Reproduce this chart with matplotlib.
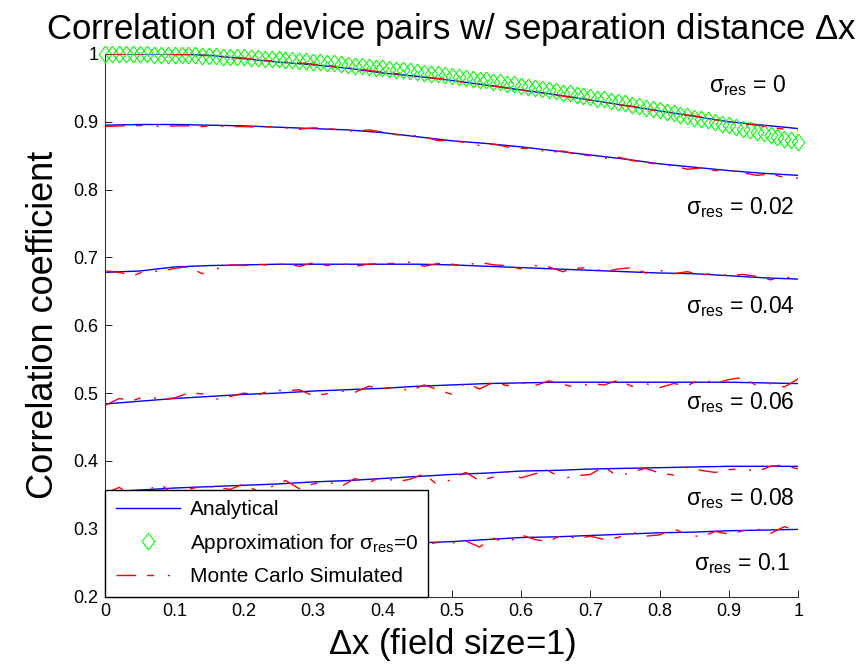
import numpy as np
import matplotlib
matplotlib.use('Agg')
import matplotlib.pyplot as plt

plt.rcParams['font.family'] = ['Liberation Sans', 'DejaVu Sans']
plt.rcParams['mathtext.fontset'] = 'custom'
plt.rcParams['mathtext.rm'] = 'Liberation Sans'
plt.rcParams['mathtext.it'] = 'Liberation Sans'
plt.rcParams['mathtext.sf'] = 'Liberation Sans'

# separation distance grids
dx_analytic = np.linspace(0, 1, 21)
dx_mc = np.linspace(0, 1, 51)
dx_approx = np.linspace(0, 1, 101)

sigma_labels = ['0', '0.02', '0.04', '0.06', '0.08', '0.1']

# analytical correlation, one row per sigma_res
analytic = [
    [1.000, 1.000, 1.000, 0.998, 0.993, 0.988, 0.984, 0.979, 0.972, 0.967, 0.961,
     0.954, 0.947, 0.940, 0.932, 0.924, 0.916, 0.908, 0.900, 0.895, 0.890],
    [0.895, 0.896, 0.896, 0.895, 0.894, 0.892, 0.890, 0.888, 0.884, 0.878, 0.872,
     0.868, 0.863, 0.857, 0.851, 0.845, 0.838, 0.833, 0.828, 0.824, 0.821],
    [0.678, 0.680, 0.686, 0.688, 0.689, 0.690, 0.690, 0.690, 0.690, 0.690, 0.689,
     0.687, 0.685, 0.683, 0.681, 0.679, 0.677, 0.676, 0.673, 0.670, 0.668],
    [0.484, 0.488, 0.492, 0.495, 0.498, 0.500, 0.503, 0.505, 0.507, 0.510, 0.512,
     0.514, 0.515, 0.516, 0.516, 0.516, 0.516, 0.516, 0.516, 0.515, 0.514],
    [0.354, 0.357, 0.360, 0.362, 0.364, 0.366, 0.369, 0.371, 0.374, 0.377, 0.380,
     0.382, 0.385, 0.386, 0.388, 0.389, 0.390, 0.391, 0.392, 0.392, 0.392],
    [0.266, 0.268, 0.270, 0.272, 0.274, 0.275, 0.276, 0.277, 0.278, 0.279, 0.281,
     0.284, 0.287, 0.288, 0.290, 0.292, 0.294, 0.295, 0.297, 0.298, 0.299],
]

# Monte Carlo simulated correlation
monte_carlo = [
    [1.000, 1.000, 1.000, 1.000, 1.000, 0.999, 0.999, 0.998, 0.996, 0.995, 0.994,
     0.991, 0.990, 0.988, 0.987, 0.985, 0.983, 0.981, 0.978, 0.976, 0.973, 0.971,
     0.968, 0.966, 0.964, 0.961, 0.958, 0.956, 0.953, 0.950, 0.947, 0.944, 0.941,
     0.938, 0.935, 0.932, 0.929, 0.925, 0.923, 0.919, 0.916, 0.913, 0.910, 0.907,
     0.903, 0.901, 0.897, 0.895, 0.892, 0.889, 0.887],
    [0.893, 0.894, 0.894, 0.895, 0.893, 0.894, 0.894, 0.893, 0.894, 0.893, 0.893,
     0.892, 0.893, 0.891, 0.889, 0.891, 0.890, 0.888, 0.886, 0.888, 0.885, 0.881,
     0.880, 0.878, 0.872, 0.873, 0.869, 0.865, 0.867, 0.863, 0.861, 0.860, 0.855,
     0.857, 0.852, 0.850, 0.846, 0.848, 0.843, 0.840, 0.837, 0.835, 0.830, 0.832,
     0.828, 0.829, 0.825, 0.821, 0.823, 0.818, 0.817],
    [0.680, 0.678, 0.673, 0.681, 0.679, 0.684, 0.686, 0.676, 0.683, 0.689, 0.688,
     0.690, 0.688, 0.691, 0.687, 0.692, 0.688, 0.691, 0.687, 0.690, 0.691, 0.691,
     0.693, 0.687, 0.691, 0.690, 0.688, 0.693, 0.689, 0.688, 0.683, 0.688, 0.686,
     0.679, 0.684, 0.685, 0.679, 0.683, 0.685, 0.677, 0.681, 0.676, 0.679, 0.674,
     0.677, 0.673, 0.675, 0.672, 0.667, 0.671, 0.669],
    [0.482, 0.492, 0.489, 0.496, 0.490, 0.493, 0.500, 0.499, 0.491, 0.495, 0.500,
     0.497, 0.505, 0.503, 0.505, 0.496, 0.499, 0.503, 0.501, 0.510, 0.506, 0.509,
     0.503, 0.512, 0.505, 0.498, 0.515, 0.506, 0.516, 0.511, 0.515, 0.511, 0.518,
     0.513, 0.508, 0.514, 0.512, 0.519, 0.510, 0.514, 0.508, 0.514, 0.511, 0.521,
     0.514, 0.520, 0.523, 0.511, 0.514, 0.509, 0.521],
    [0.352, 0.361, 0.348, 0.357, 0.365, 0.350, 0.358, 0.363, 0.361, 0.358, 0.366,
     0.355, 0.362, 0.371, 0.359, 0.366, 0.370, 0.362, 0.374, 0.368, 0.377, 0.369,
     0.373, 0.381, 0.364, 0.373, 0.383, 0.371, 0.376, 0.384, 0.375, 0.381, 0.385,
     0.374, 0.378, 0.380, 0.392, 0.376, 0.384, 0.389, 0.382, 0.379, 0.391, 0.386,
     0.383, 0.387, 0.389, 0.384, 0.392, 0.394, 0.388],
    [0.268, 0.259, 0.273, 0.264, 0.271, 0.262, 0.275, 0.267, 0.270, 0.279, 0.266,
     0.274, 0.281, 0.270, 0.276, 0.272, 0.279, 0.284, 0.271, 0.277, 0.283, 0.274,
     0.279, 0.276, 0.280, 0.279, 0.282, 0.273, 0.286, 0.279, 0.291, 0.284, 0.281,
     0.292, 0.285, 0.289, 0.284, 0.287, 0.295, 0.289, 0.291, 0.300, 0.291, 0.288,
     0.296, 0.292, 0.297, 0.300, 0.293, 0.303, 0.297],
]

# approximation for sigma_res = 0
approx = [
    1.000, 1.000, 1.000, 1.000, 1.000, 1.000, 1.000, 0.999, 0.999, 0.999,
    0.999, 0.998, 0.998, 0.998, 0.997, 0.997, 0.997, 0.996, 0.996, 0.995,
    0.995, 0.994, 0.994, 0.993, 0.993, 0.992, 0.991, 0.991, 0.990, 0.989,
    0.988, 0.988, 0.987, 0.986, 0.985, 0.984, 0.983, 0.982, 0.981, 0.980,
    0.979, 0.978, 0.977, 0.976, 0.975, 0.974, 0.972, 0.971, 0.970, 0.969,
    0.968, 0.966, 0.965, 0.963, 0.962, 0.961, 0.959, 0.958, 0.956, 0.955,
    0.953, 0.952, 0.950, 0.948, 0.947, 0.945, 0.943, 0.942, 0.940, 0.938,
    0.936, 0.934, 0.933, 0.931, 0.929, 0.927, 0.925, 0.923, 0.921, 0.919,
    0.917, 0.915, 0.913, 0.910, 0.908, 0.906, 0.904, 0.902, 0.899, 0.897,
    0.895, 0.892, 0.890, 0.888, 0.885, 0.883, 0.880, 0.878, 0.875, 0.873,
    0.870,
]

# where the sigma_res annotations sit
label_x = [0.982, 0.995, 0.995, 0.995, 0.995, 0.988]
label_y = [0.944, 0.764, 0.618, 0.4765, 0.335, 0.239]

xticks = [0, 0.1, 0.2, 0.3, 0.4, 0.5, 0.6, 0.7, 0.8, 0.9, 1]
xtick_labels = ['0', '0.1', '0.2', '0.3', '0.4', '0.5', '0.6', '0.7', '0.8', '0.9', '1']
yticks = [0.2, 0.3, 0.4, 0.5, 0.6, 0.7, 0.8, 0.9, 1]
ytick_labels = ['0.2', '0.3', '0.4', '0.5', '0.6', '0.7', '0.8', '0.9', '1']

fig = plt.figure(figsize=(8.64, 6.68), dpi=100)
ax = fig.add_axes([0.1219, 0.107, 0.8020, 0.8122])

# slightly tall diamond like the matlab one
diamond = [(0, 1), (0.76, 0), (0, -1), (-0.76, 0), (0, 1)]
mc_dash = (0, (14, 8, 5, 10, 1.5, 8))

for i in range(len(analytic)):
    ax.plot(dx_analytic, analytic[i], color='#0000ff', lw=1.0,
            label='Analytical' if i == 0 else None, zorder=2)
    if i == 0:
        ax.plot(dx_approx, approx, linestyle='none', marker=diamond, ms=12,
                mfc='none', mec='#00ff00', mew=0.8, clip_on=False,
                label=r'Approximation for $\sigma_{\rm res}$=0', zorder=3)
    ax.plot(dx_mc, monte_carlo[i], color='#ff0000', lw=1.0, linestyle=mc_dash,
            label='Monte Carlo Simulated' if i == 0 else None, zorder=4)

for i in range(len(sigma_labels)):
    ax.text(label_x[i], label_y[i], r'$\sigma_{\rm res}$ = ' + sigma_labels[i],
            ha='right', va='baseline', fontsize=16.5)

ax.set_xlim(0, 1)
ax.set_ylim(0.2, 1)
ax.set_xticks(xticks)
ax.set_xticklabels(xtick_labels)
ax.set_yticks(yticks)
ax.set_yticklabels(ytick_labels)
ax.tick_params(direction='in', length=5, width=0.6, labelsize=13, pad=5)
ax.spines['top'].set_visible(False)
ax.spines['right'].set_visible(False)
for s in ['left', 'bottom']:
    ax.spines[s].set_linewidth(0.8)
    ax.spines[s].set_color('#333333')

ax.set_title(r'Correlation of device pairs w/ separation distance $\Delta$x',
             fontsize=25, pad=11)
ax.set_xlabel(r'$\Delta$x (field size=1)', fontsize=25, labelpad=4)
ax.set_ylabel('Correlation coefficient', fontsize=26, labelpad=9)

lgd = ax.legend(loc='lower left', borderaxespad=0., fancybox=False, fontsize=15,
                edgecolor='black', framealpha=1, handlelength=3.1,
                handletextpad=0.45, borderpad=0.5, labelspacing=0.6)
lgd.get_frame().set_linewidth(1.0)
lgd.set_zorder(10)

fig.savefig('out.png', dpi=100)
